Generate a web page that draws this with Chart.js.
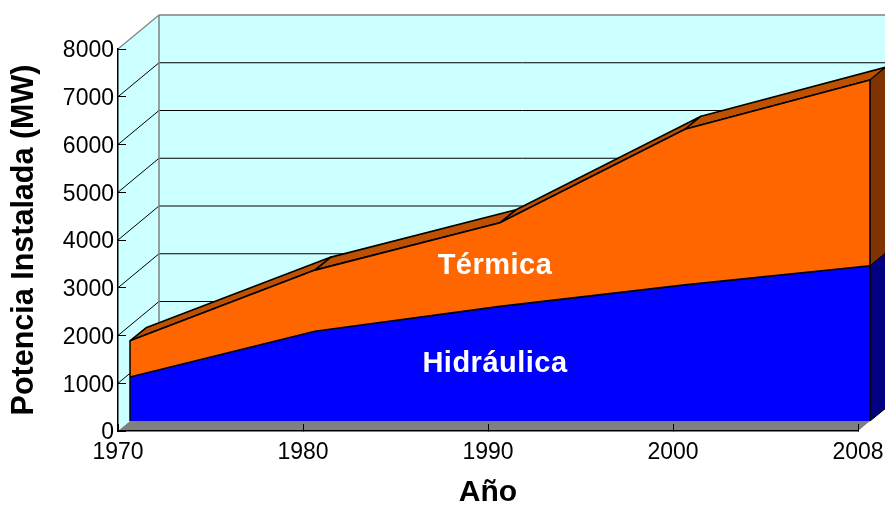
<!DOCTYPE html>
<html>
<head>
<meta charset="utf-8">
<style>
  html, body { margin: 0; padding: 0; background: #fff; }
  canvas { display: block; }
</style>
<script src="https://cdn.jsdelivr.net/npm/chart.js@4/dist/chart.umd.min.js"></script>
</head>
<body>
<canvas id="chart" width="885" height="507"></canvas>
<script>
const years = ["1970", "1980", "1990", "2000", "2008"];
const hidraulica = [920, 1880, 2400, 2850, 3250];
const termica = [760, 1280, 1750, 3260, 3890];

// 3D look: how far the walls and the area slab are pushed back
const wallDepth = { x: 41, y: -34 };
const frontGap = { x: 12, y: -10 };
const slabDepth = { x: 16, y: -13 };

function poly(ctx, pts, fill, stroke, lineW) {
  ctx.beginPath();
  pts.forEach((p, i) => i ? ctx.lineTo(p[0], p[1]) : ctx.moveTo(p[0], p[1]));
  ctx.closePath();
  if (fill) { ctx.fillStyle = fill; ctx.fill(); }
  if (stroke) { ctx.strokeStyle = stroke; ctx.lineWidth = lineW || 1; ctx.stroke(); }
}

function line(ctx, x1, y1, x2, y2, color, w) {
  ctx.beginPath();
  ctx.moveTo(x1, y1);
  ctx.lineTo(x2, y2);
  ctx.strokeStyle = color;
  ctx.lineWidth = w || 1;
  ctx.stroke();
}

const walls3d = {
  id: "walls3d",
  // walls go first so the axes are painted on top of them
  beforeDraw(chart) {
    const { ctx, chartArea: a, scales: { y } } = chart;
    const dx = wallDepth.x, dy = wallDepth.y;
    poly(ctx, [[a.left + dx, a.top + dy], [a.right + dx, a.top + dy], [a.right + dx, a.bottom + dy], [a.left + dx, a.bottom + dy]], "#CCFFFF");
    poly(ctx, [[a.left, a.top], [a.left + dx, a.top + dy], [a.left + dx, a.bottom + dy], [a.left, a.bottom]], "#CCFFFF");
    poly(ctx, [[a.left, a.bottom], [a.right, a.bottom], [a.right + dx, a.bottom + dy], [a.left + dx, a.bottom + dy]], "#808080");

    y.ticks.forEach(t => {
      if (t.value === 0 || t.value === y.max) return;
      const py = y.getPixelForValue(t.value);
      line(ctx, a.left, py, a.left + dx, py + dy, "#000");
      line(ctx, a.left + dx, py + dy, a.right + dx, py + dy, "#000");
    });
    line(ctx, a.left, a.top, a.left + dx, a.top + dy, "#808080", 1.2);
    line(ctx, a.left + dx, a.top + dy, a.right + dx, a.top + dy, "#808080", 1.5);
    line(ctx, a.left + dx, a.top + dy, a.left + dx, a.bottom + dy, "#808080", 1.5);
  },
  beforeDatasetsDraw(chart) {
    const { ctx, chartArea: a } = chart;
    const base = a.bottom + frontGap.y;
    const top = chart.getDatasetMeta(1).data;
    const low = chart.getDatasetMeta(0).data;
    const fx = frontGap.x, fy = frontGap.y, sx = slabDepth.x, sy = slabDepth.y;
    ctx.lineJoin = "round";

    // top of the slab, one piece per segment
    for (let i = 0; i < top.length - 1; i++) {
      const p = top[i], q = top[i + 1];
      poly(ctx, [
        [p.x + fx, p.y + fy], [q.x + fx, q.y + fy],
        [q.x + fx + sx, q.y + fy + sy], [p.x + fx + sx, p.y + fy + sy]
      ], "#BF5000", "#000", 1.6);
    }

    // right end of the slab
    const rt = top[top.length - 1], rl = low[low.length - 1];
    const rx = rt.x + fx;
    poly(ctx, [[rx, rt.y + fy], [rx + sx, rt.y + fy + sy], [rx + sx, rl.y + fy + sy], [rx, rl.y + fy]], "#7F3300", "#000", 1);
    poly(ctx, [[rx, rl.y + fy], [rx + sx, rl.y + fy + sy], [rx + sx, base + sy], [rx, base]], "#000080", "#000", 1);

    // front faces come from the datasets, shifted onto the front plane
    ctx.save();
    ctx.translate(fx, fy);
  },
  afterDatasetsDraw(chart) {
    const { ctx, chartArea: a, scales: { x, y } } = chart;
    const top = chart.getDatasetMeta(1).data;
    const last = top.length - 1;
    line(ctx, top[0].x, top[0].y, top[0].x, a.bottom, "#000", 1.5);
    line(ctx, top[last].x, top[last].y, top[last].x, a.bottom, "#000", 1.5);
    ctx.restore();

    ctx.save();
    ctx.fillStyle = "#fff";
    ctx.font = "bold 29px 'Liberation Sans', Arial, sans-serif";
    ctx.fontKerning = "none";
    ctx.letterSpacing = "0.5px";
    ctx.textAlign = "center";
    ctx.textBaseline = "middle";
    ctx.fillText("Térmica", x.getPixelForValue(2) + 7, y.getPixelForValue(3450));
    ctx.fillText("Hidráulica", x.getPixelForValue(2) + 7, y.getPixelForValue(1400));
    ctx.restore();
  }
};

new Chart(document.getElementById("chart"), {
  type: "line",
  data: {
    labels: years,
    datasets: [
      {
        label: "Hidráulica",
        data: hidraulica,
        backgroundColor: "#0000FF",
        borderColor: "#000",
        borderWidth: 1.6,
        fill: "origin",
        pointRadius: 0,
        tension: 0,
        clip: false
      },
      {
        label: "Térmica",
        data: termica,
        backgroundColor: "#FF6600",
        borderColor: "#000",
        borderWidth: 1.6,
        fill: "-1",
        pointRadius: 0,
        tension: 0,
        clip: false
      }
    ]
  },
  options: {
    responsive: false,
    animation: false,
    layout: { padding: { top: 49, right: 27 } },
    plugins: {
      legend: { display: false },
      title: { display: false },
      tooltip: { enabled: false }
    },
    scales: {
      x: {
        afterFit(scale) {
          scale.height = 76;
          scale.paddingLeft = 0;
          scale.paddingRight = 0;
        },
        title: {
          display: true,
          text: "Año",
          color: "#000",
          font: { family: "'Liberation Sans'", size: 30, weight: "bold" },
          padding: { top: 0, bottom: -4 }
        },
        grid: { drawOnChartArea: false, tickLength: -7, tickColor: "#000", tickWidth: 1 },
        border: { color: "#000", width: 1.5 },
        ticks: {
          color: "#000",
          font: { family: "'Liberation Sans'", size: 23 },
          autoSkip: false,
          maxRotation: 0,
          padding: 15
        }
      },
      y: {
        min: 0,
        max: 8000,
        stacked: true,
        afterFit(scale) {
          scale.width = 118;
          scale.paddingTop = 0;
          scale.paddingBottom = 0;
        },
        title: {
          display: true,
          text: "Potencia Instalada (MW)",
          color: "#000",
          font: { family: "'Liberation Sans'", size: 30.5, weight: "bold" },
          padding: { top: 6, bottom: 0 }
        },
        grid: { drawOnChartArea: false, tickLength: -8, tickColor: "#000", tickWidth: 1 },
        border: { color: "#000", width: 1.5 },
        ticks: {
          color: "#000",
          font: { family: "'Liberation Sans'", size: 23 },
          stepSize: 1000,
          padding: 12,
          labelOffset: 2,
          callback: v => String(v)
        }
      }
    }
  },
  plugins: [walls3d]
});
</script>
</body>
</html>
